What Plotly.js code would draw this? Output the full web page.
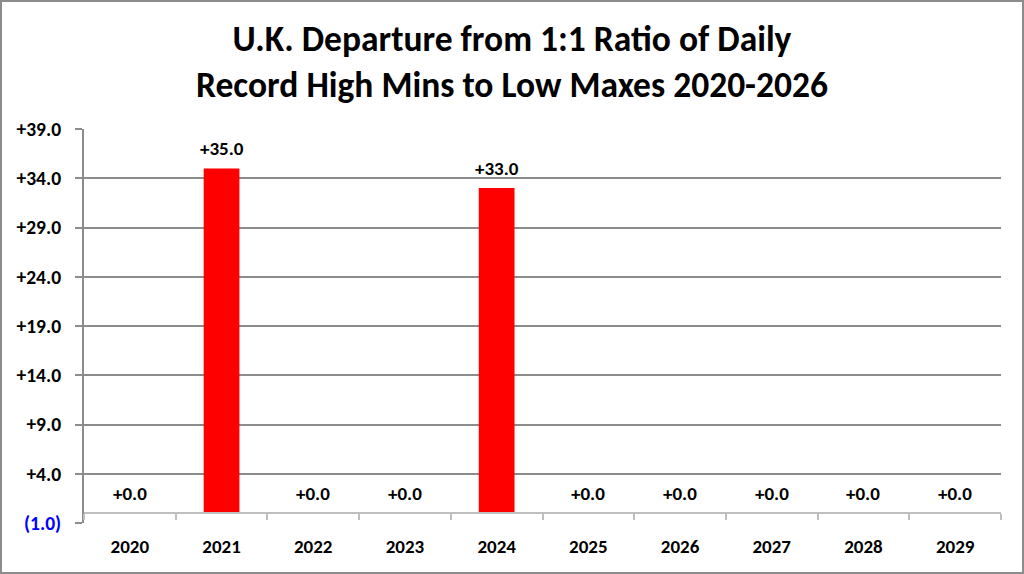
<!DOCTYPE html>
<html>
<head>
<meta charset="utf-8">
<script src="https://cdn.plot.ly/plotly-3.0.1.min.js"></script>
<style>
html,body{margin:0;padding:0;background:#fff;}
#chart{width:1024px;height:574px;box-sizing:border-box;border:2px solid #8c8c8c;}
</style>
</head>
<body>
<div id="chart"></div>
<script>
const years = ['2020','2021','2022','2023','2024','2025','2026','2027','2028','2029'];
const departures = [0, 35, 0, 0, 33, 0, 0, 0, 0, 0];
const yTickVals = [-1, 4, 9, 14, 19, 24, 29, 34, 39];
const yTickText = yTickVals.map(v => v < 0 ? '<span style="color:#0000ff">(' + Math.abs(v).toFixed(1) + ')</span>' : '+' + v.toFixed(1));
const FONT = 'Carlito, Lato, "Open Sans", sans-serif';

const annotations = years.map((y, i) => ({
  x: i, y: departures[i], xref: 'x', yref: 'y',
  text: '+' + departures[i].toFixed(1),
  showarrow: false, yanchor: 'middle', yshift: 20,
  font: {family: FONT, size: 19, color: '#000', weight: 'bold'}
}));

const data = [{
  type: 'bar', x: years, y: departures,
  marker: {color: '#ff0000'},
  width: 0.39, hoverinfo: 'none'
}];

const layout = {
  width: 1020, height: 570,
  margin: {l: 82, r: 21, t: 127, b: 49},
  paper_bgcolor: '#fff', plot_bgcolor: '#fff',
  showlegend: false,
  title: {
    text: '<b>U.K. Departure from 1:1 Ratio of Daily<br>Record High Mins to Low Maxes 2020-2026</b>',
    font: {family: FONT, size: 35.5, color: '#000'},
    x: 0.5, xanchor: 'center', yref: 'container', y: 0.914, yanchor: 'middle'
  },
  xaxis: {
    type: 'category', anchor: 'free', position: 0.025,
    range: [-0.5, 9.5], autorange: false,
    showline: true, linecolor: '#bfbfbf', linewidth: 2,
    ticks: 'outside', tickson: 'boundaries', ticklen: 6, tickcolor: '#bfbfbf', tickwidth: 2,
    ticklabelstandoff: 16,
    tickfont: {family: FONT, size: 19, color: '#000', weight: 'bold'},
    showgrid: false, zeroline: false, fixedrange: true
  },
  yaxis: {
    range: [-1, 39], autorange: false, tickvals: yTickVals, ticktext: yTickText,
    showgrid: true, gridcolor: '#8c8c8c', gridwidth: 2,
    showline: true, linecolor: '#8c8c8c', linewidth: 2,
    ticks: 'outside', ticklen: 7, tickcolor: '#8c8c8c', tickwidth: 2,
    ticklabelstandoff: 10,
    tickfont: {family: FONT, size: 19.5, color: '#000', weight: 'bold'},
    zeroline: false, fixedrange: true
  },
  annotations: annotations
};

Plotly.newPlot('chart', data, layout, {displayModeBar: false, staticPlot: true});
</script>
</body>
</html>
